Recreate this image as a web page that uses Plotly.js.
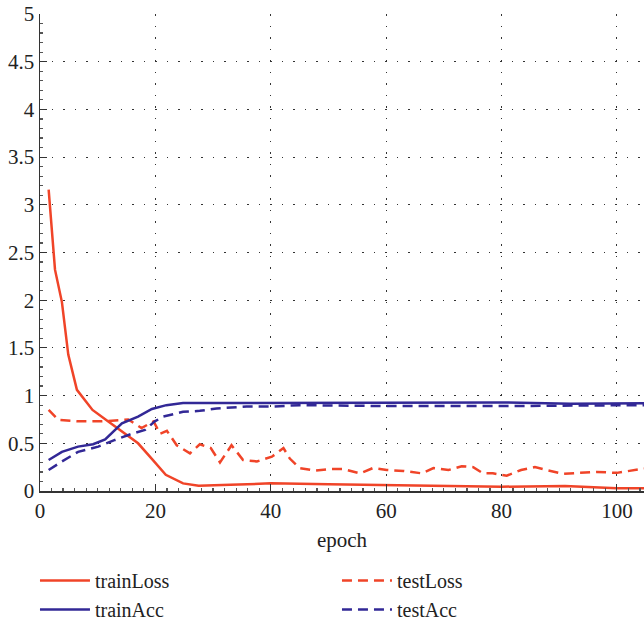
<!DOCTYPE html>
<html>
<head>
<meta charset="utf-8">
<script src="https://cdn.plot.ly/plotly-3.0.1.min.js"></script>
<style>html,body{margin:0;padding:0;background:#fff;}#chart{width:644px;height:622px;}</style>
</head>
<body>
<div id="chart"></div>
<script>
const trainLossX = [1.5, 2.6, 3.8, 4.9, 6.4, 9.1, 11.6, 14.4, 17.0, 19.2, 21.8, 24.8, 27.5, 33, 40, 50, 60, 70, 80, 91, 100, 104.7];
const trainLossY = [3.16, 2.32, 1.98, 1.43, 1.06, 0.85, 0.74, 0.62, 0.50, 0.35, 0.17, 0.08, 0.055, 0.065, 0.08, 0.072, 0.065, 0.058, 0.045, 0.052, 0.028, 0.028];

const testLossX = [1.5, 3.2, 6.6, 10.7, 15.3, 17.6, 19.7, 20.8, 22, 23.7, 26, 27.7, 29.6, 31.2, 33.2, 35.2, 37.6, 40.2, 42.2, 43.3, 45, 47.7, 50.3, 52.6, 55.5, 57.7, 60.1, 63, 66.2, 68.2, 70.8, 73.1, 75.1, 76.8, 78.5, 80.9, 83.4, 85.8, 88.1, 90.7, 93.5, 96.5, 100, 102.8, 104.7];
const testLossY = [0.85, 0.745, 0.73, 0.73, 0.75, 0.66, 0.73, 0.6, 0.63, 0.48, 0.395, 0.49, 0.45, 0.30, 0.48, 0.325, 0.31, 0.36, 0.45, 0.34, 0.24, 0.215, 0.23, 0.23, 0.185, 0.24, 0.22, 0.21, 0.185, 0.24, 0.22, 0.26, 0.25, 0.185, 0.185, 0.16, 0.22, 0.25, 0.215, 0.18, 0.19, 0.2, 0.19, 0.22, 0.235];

const trainAccX = [1.5, 3.8, 6.6, 9.2, 11.3, 14.2, 17, 19.4, 21.9, 24.8, 30, 40, 60, 80, 92, 100, 104.7];
const trainAccY = [0.325, 0.41, 0.465, 0.49, 0.54, 0.71, 0.78, 0.86, 0.9, 0.922, 0.922, 0.922, 0.922, 0.928, 0.915, 0.92, 0.92];

const testAccX = [1.5, 3.8, 6.6, 10.1, 13, 15.9, 18.2, 19.9, 21.4, 24.8, 27.7, 30.6, 35.8, 40.2, 45, 60, 80, 100, 104.7];
const testAccY = [0.22, 0.31, 0.41, 0.465, 0.535, 0.6, 0.64, 0.73, 0.78, 0.83, 0.84, 0.865, 0.885, 0.885, 0.9, 0.89, 0.89, 0.895, 0.9];

const RED = 'rgb(240,68,40)';
const BLUE = 'rgb(50,40,150)';
const FONT = 'Liberation Serif, DejaVu Serif, serif';

const traces = [
  {x: trainLossX, y: trainLossY, name: 'trainLoss', mode: 'lines', line: {color: RED, width: 2.5}},
  {x: testLossX, y: testLossY, name: 'testLoss', mode: 'lines', line: {color: RED, width: 2.5, dash: '10px,6px'}},
  {x: trainAccX, y: trainAccY, name: 'trainAcc', mode: 'lines', line: {color: BLUE, width: 2.5}},
  {x: testAccX, y: testAccY, name: 'testAcc', mode: 'lines', line: {color: BLUE, width: 2.5, dash: '10px,6px'}}
];

const layout = {
  width: 644, height: 622,
  margin: {l: 40, r: 0, t: 14, b: 131},
  paper_bgcolor: '#fff', plot_bgcolor: '#fff',
  font: {family: FONT, size: 21, color: '#222'},
  showlegend: true,
  legend: {
    orientation: 'h', xref: 'container', yref: 'container',
    x: 0.0543, xanchor: 'left', y: 0.098, yanchor: 'top',
    entrywidth: 237, entrywidthmode: 'pixels', itemwidth: 50,
    font: {family: FONT, size: 20, color: '#222'},
    bgcolor: 'rgba(0,0,0,0)'
  },
  xaxis: {
    range: [0, 104.7], tick0: 0, dtick: 20,
    showline: true, linecolor: '#333', linewidth: 1.5,
    ticks: 'inside', ticklen: 7, tickcolor: '#333', tickwidth: 1.2,
    minor: {dtick: 2, ticks: 'inside', ticklen: 3, tickcolor: '#555', showgrid: false},
    showgrid: true, gridcolor: '#333', gridwidth: 1, griddash: '1.5px,10px',
    zeroline: false,
    title: {text: 'epoch', font: {family: FONT, size: 21, color: '#222'}, standoff: 10},
    tickfont: {family: FONT, size: 21, color: '#222'}
  },
  yaxis: {
    range: [0, 5], tick0: 0, dtick: 0.5,
    showline: true, linecolor: '#333', linewidth: 1.5,
    ticks: 'inside', ticklen: 7, tickcolor: '#333', tickwidth: 1.2,
    minor: {dtick: 0.1, ticks: 'inside', ticklen: 3, tickcolor: '#555', showgrid: false},
    showgrid: true, gridcolor: '#333', gridwidth: 1, griddash: '1.5px,10px',
    zeroline: false,
    tickfont: {family: FONT, size: 21, color: '#222'}
  }
};

Plotly.newPlot('chart', traces, layout, {staticPlot: true, displayModeBar: false});
</script>
</body>
</html>
